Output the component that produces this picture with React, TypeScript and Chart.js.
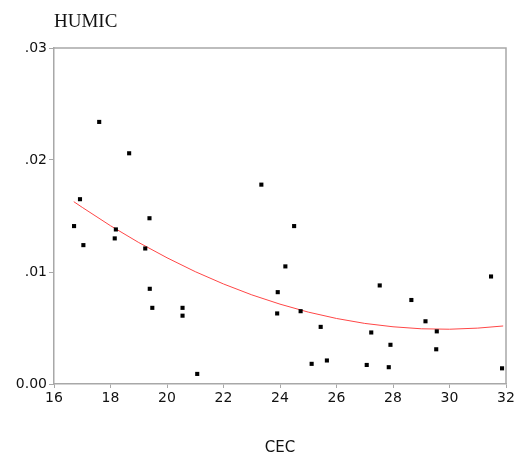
import React, { useEffect, useRef } from "react";
import { Chart, registerables } from "chart.js";

Chart.register(...registerables);

const cecValues = [
  16.71, 16.92, 17.04, 17.6, 18.66, 18.15, 18.19, 19.23, 19.38, 19.39, 19.48, 20.55, 20.55, 21.07,
  23.34, 24.5, 24.19, 23.92, 23.9, 24.73, 25.44, 25.12, 25.66, 27.07, 27.23, 27.53, 27.91, 27.85,
  28.65, 29.15, 29.55, 29.53, 31.47, 31.86,
];
const humicValues = [
  0.0141, 0.0165, 0.0124, 0.0234, 0.0206, 0.013, 0.0138, 0.0121, 0.0148, 0.0085, 0.0068, 0.0068,
  0.0061, 0.0009, 0.0178, 0.0141, 0.0105, 0.0082, 0.0063, 0.0065, 0.0051, 0.0018, 0.0021, 0.0017,
  0.0046, 0.0088, 0.0035, 0.0015, 0.0075, 0.0056, 0.0047, 0.0031, 0.0096, 0.0014,
];
const fitX = [16.7, 17, 18, 19, 20, 21, 22, 23, 24, 25, 26, 27, 28, 29, 30, 31, 31.9];
const fitY = [
  0.01628, 0.01577, 0.01413, 0.01263, 0.01127, 0.01003, 0.00893, 0.00796, 0.00713, 0.00642,
  0.00585, 0.00541, 0.00511, 0.00493, 0.00489, 0.00499, 0.00518,
];
const xTicks = [16, 18, 20, 22, 24, 26, 28, 30, 32];
const yTicks = [0, 0.01, 0.02, 0.03];
const yTickLabels = ["0.00", ".01", ".02", ".03"];
const yTitle = "HUMIC";
const xTitle = "CEC";

const W = 518;
const H = 457;
const FRAME = "#a8a8a8";

export default function App() {
  const ref = useRef<HTMLCanvasElement | null>(null);

  useEffect(() => {
    document.body.style.margin = "0";
    const canvas = ref.current;
    if (!canvas) return;

    const textPlugin = {
      id: "texts",
      afterDraw(chart: any) {
        const { ctx, chartArea } = chart;
        ctx.save();
        ctx.strokeStyle = FRAME;
        ctx.lineWidth = 1.5;
        ctx.beginPath();
        ctx.moveTo(chartArea.left, chartArea.top);
        ctx.lineTo(chartArea.right, chartArea.top);
        ctx.lineTo(chartArea.right, chartArea.bottom);
        ctx.stroke();
        ctx.fillStyle = "#111";
        ctx.font = '19px "Liberation Serif"';
        ctx.textAlign = "left";
        ctx.textBaseline = "alphabetic";
        ctx.fillText(yTitle, 54, 27);
        ctx.font = '15px "DejaVu Sans"';
        ctx.textAlign = "center";
        ctx.fillText(xTitle, (chartArea.left + chartArea.right) / 2, 452);
        ctx.restore();
      },
    };

    const chart = new Chart(canvas, {
      type: "scatter",
      data: {
        datasets: [
          {
            label: "fit",
            data: fitX.map((x, i) => ({ x, y: fitY[i] })),
            showLine: true,
            borderColor: "rgb(255,70,70)",
            borderWidth: 1,
            pointRadius: 0,
            tension: 0,
            order: 2,
          },
          {
            label: "data",
            data: cecValues.map((x, i) => ({ x, y: humicValues[i] })),
            pointStyle: "rect",
            pointRadius: 2.9,
            borderWidth: 0,
            backgroundColor: "#000",
            borderColor: "#000",
            order: 1,
          },
        ],
      },
      options: {
        responsive: false,
        animation: false,
        layout: { padding: { left: 0, right: 12, top: 48, bottom: 0 } },
        plugins: { legend: { display: false }, tooltip: { enabled: false }, title: { display: false } },
        scales: {
          x: {
            type: "linear",
            min: 16,
            max: 32,
            afterFit: (s: any) => {
              s.height = 73;
            },
            afterBuildTicks: (s: any) => {
              s.ticks = xTicks.map((v) => ({ value: v }));
            },
            ticks: {
              color: "#111",
              font: { family: "DejaVu Sans", size: 14 },
              padding: 2,
              maxRotation: 0,
              autoSkip: false,
            },
            grid: {
              drawOnChartArea: false,
              drawTicks: true,
              tickLength: 4,
              color: FRAME,
            },
            border: { color: FRAME, width: 1.5 },
          },
          y: {
            type: "linear",
            min: 0,
            max: 0.03,
            afterFit: (s: any) => {
              s.width = 54;
            },
            afterBuildTicks: (s: any) => {
              s.ticks = yTicks.map((v) => ({ value: v }));
            },
            ticks: {
              color: "#111",
              font: { family: "DejaVu Sans", size: 14 },
              padding: 2,
              autoSkip: false,
              callback: (v: any) => {
                const i = yTicks.findIndex((t) => Math.abs(t - Number(v)) < 1e-9);
                return i >= 0 ? yTickLabels[i] : "";
              },
            },
            grid: {
              drawOnChartArea: false,
              drawTicks: true,
              tickLength: 5,
              color: FRAME,
            },
            border: { color: FRAME, width: 1.5 },
          },
        },
      },
      plugins: [textPlugin],
    });
    return () => chart.destroy();
  }, []);

  return (
    <div style={{ position: "absolute", left: 0, top: 0, width: W, height: H, background: "#fff" }}>
      <canvas ref={ref} width={W} height={H} style={{ width: W, height: H }} />
    </div>
  );
}
